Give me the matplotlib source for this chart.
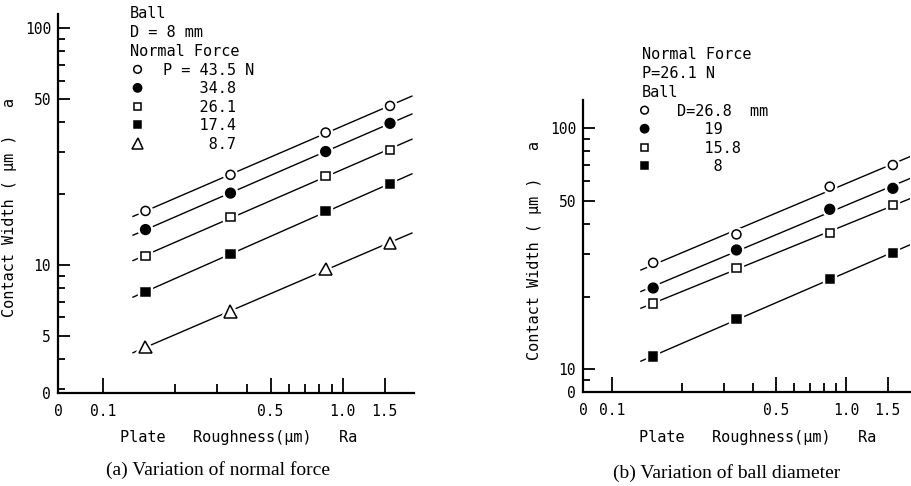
import numpy as np
import matplotlib.pyplot as plt
from matplotlib import patheffects as pe
from matplotlib.ticker import NullFormatter

plt.rcParams['font.family'] = 'DejaVu Sans Mono'

# plate roughness Ra (um) - same four plates in both panels
ra = [0.15, 0.34, 0.85, 1.58]

# (a) ball D = 8 mm, normal force varied
force_title = 'Ball\nD = 8 mm\nNormal Force'
force_labels = ['P = 43.5 N', '    34.8', '    26.1', '    17.4', '     8.7']
width_p435 = [16.9, 24.0, 36.2, 46.9]
width_p348 = [14.1, 20.1, 30.1, 39.6]
width_p261 = [10.9, 15.9, 23.8, 30.6]
width_p174 = [7.7, 11.1, 16.9, 21.9]
width_p87 = [4.5, 6.35, 9.6, 12.4]

# (b) P = 26.1 N, ball diameter varied
dia_title = 'Normal Force\nP=26.1 N\nBall'
dia_labels = ['D=26.8  mm', '   19', '   15.8', '    8']
width_d268 = [27.6, 36.2, 57.1, 70.2]
width_d19 = [21.7, 31.2, 46.0, 56.2]
width_d158 = [18.7, 26.2, 36.8, 47.9]
width_d8 = [11.3, 16.1, 23.6, 30.4]

# marker, face colour, size
styles = [('o', 'white', 6.5), ('o', 'black', 7), ('s', 'white', 6),
          ('s', 'black', 6), ('^', 'white', 9)]


def draw_panel(ax, series, labels, xlim, ylim, yticks, ylabels):
    line_x = np.array([0.133, 1.95])
    for w, lab, (m, fc, ms) in zip(series, labels, styles):
        # straight fit in log-log space
        coef = np.polyfit(np.log10(ra), np.log10(w), 1)
        ax.plot(line_x, 10 ** np.polyval(coef, np.log10(line_x)),
                color='black', lw=1.0, zorder=2)
        ax.plot(ra, w, ls='none', marker=m, ms=ms, mfc=fc, mec='black',
                mew=1.1, zorder=3, label=lab,
                path_effects=[pe.withStroke(linewidth=4.5, foreground='white')])

    ax.set_xscale('log')
    ax.set_yscale('log')
    ax.set_xlim(*xlim)
    ax.set_ylim(*ylim)

    ax.set_xticks([xlim[0], 0.1, 0.5, 1.0, 1.5], ['0', '0.1', '0.5', '1.0', '1.5'])
    ax.set_xticks([0.2, 0.3, 0.4, 0.6, 0.7, 0.8, 0.9], minor=True)
    ax.set_yticks([ylim[0]] + yticks, ['0'] + ylabels)
    ax.set_yticks([v for v in [3, 4, 6, 7, 8, 9, 20, 30, 40, 60, 70, 80, 90]
                   if ylim[0] < v < ylim[1]], minor=True)
    ax.xaxis.set_minor_formatter(NullFormatter())
    ax.yaxis.set_minor_formatter(NullFormatter())

    ax.tick_params(which='both', direction='in', width=1.3, labelsize=10.5)
    ax.tick_params(axis='x', which='major', length=11, pad=8)
    ax.tick_params(axis='x', which='minor', length=6.5)
    ax.tick_params(axis='y', which='major', length=8.5, pad=5)
    ax.tick_params(axis='y', which='minor', length=5)

    for s in ['top', 'right']:
        ax.spines[s].set_visible(False)
    for s in ['left', 'bottom']:
        ax.spines[s].set_linewidth(1.6)

    ax.set_ylabel('Contact Width ( µm )   a', fontsize=11)
    ax.set_xlabel('Plate   Roughness(µm)   Ra', fontsize=11)


def add_legend(ax, title, anchor, hlen, hpad):
    leg = ax.legend(title=title, loc='upper left', bbox_to_anchor=anchor,
                    frameon=False, borderpad=0, borderaxespad=0,
                    handlelength=hlen, handletextpad=hpad, labelspacing=0.23,
                    alignment='left', fontsize=11, title_fontsize=11,
                    markerscale=0.85)
    leg.get_title().set_linespacing(1.34)
    return leg


fig = plt.figure(figsize=(9.12, 4.86), dpi=100)

# (a)
ax1 = fig.add_axes([58 / 912, 1 - 393 / 486, 356 / 912, 379 / 486])
draw_panel(ax1, [width_p435, width_p348, width_p261, width_p174, width_p87],
           force_labels, (0.0646, 1.99), (2.88, 114.6), [5, 10, 50, 100],
           ['5', '10', '50', '100'])
ax1.yaxis.set_label_coords(-0.114, 0.49)
ax1.xaxis.set_label_coords(0.506, -0.098)
add_legend(ax1, force_title, (0.202, 1.021), 1.0, 1.16)

# (b)
ax2 = fig.add_axes([583 / 912, 1 - 392 / 486, 327 / 912, 292 / 486])
draw_panel(ax2, [width_d268, width_d19, width_d158, width_d8],
           dia_labels, (0.0753, 1.87), (8.04, 130.6), [10, 50, 100],
           ['10', '50', '100'])
ax2.yaxis.set_label_coords(-0.125, 0.483)
ax2.xaxis.set_label_coords(0.535, -0.130)
add_legend(ax2, dia_title, (0.179, 1.182), 0.4, 1.9)

fig.text(218 / 912, 1 - 470 / 486, '(a) Variation of normal force',
         ha='center', va='center', family='Liberation Serif', fontsize=14)
fig.text(727 / 912, 1 - 473 / 486, '(b) Variation of ball diameter',
         ha='center', va='center', family='Liberation Serif', fontsize=14)

fig.savefig('out.png', dpi=100)
